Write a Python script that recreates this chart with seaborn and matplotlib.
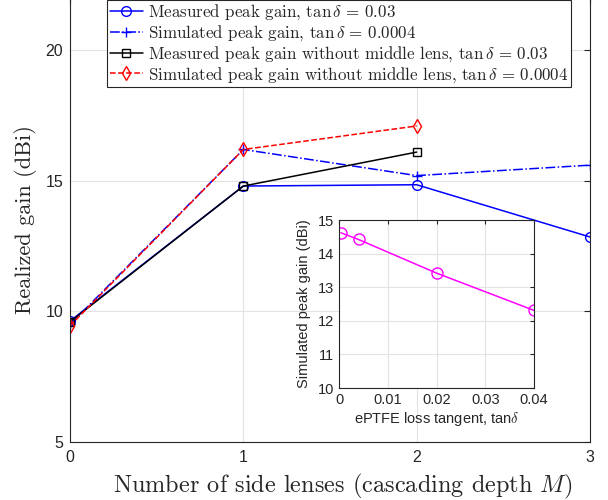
import numpy as np
import pandas as pd
import matplotlib
matplotlib.use("Agg")
import matplotlib.pyplot as plt
import seaborn as sns

# data
depth = [0, 1, 2, 3]
meas_gain = [9.63, 14.8, 14.85, 12.85]
sim_gain = [9.5, 16.2, 15.2, 15.6]
depth_nomid = [0, 1, 2]
meas_gain_nomid = [9.6, 14.8, 16.1]
sim_gain_nomid = [9.45, 16.2, 17.1]

loss_tangent = [0.0004, 0.004, 0.02, 0.04]
sim_peak_gain = [14.62, 14.42, 13.42, 12.31]

labels = [
    r"Measured peak gain, $\tan\delta\,=\,0.03$",
    r"Simulated peak gain, $\tan\delta\,=\,0.0004$",
    r"Measured peak gain without middle lens, $\tan\delta\,=\,0.03$",
    r"Simulated peak gain without middle lens, $\tan\delta\,=\,0.0004$",
]

sns.set_style("white")
plt.rcParams["font.family"] = ["Liberation Sans", "DejaVu Sans"]
plt.rcParams["mathtext.fontset"] = "cm"
plt.rcParams["xtick.direction"] = "in"
plt.rcParams["ytick.direction"] = "in"
plt.rcParams["xtick.top"] = True
plt.rcParams["ytick.right"] = True

serif = "cmr10"

fig = plt.figure(figsize=(6.08, 5), dpi=100)
ax = fig.add_axes([70 / 608, 0.116, 520 / 608, 444 / 500])

series = [
    (depth, meas_gain, "blue", "-", "o"),
    (depth, sim_gain, "blue", "-.", "+"),
    (depth_nomid, meas_gain_nomid, "black", "-", "s"),
    (depth_nomid, sim_gain_nomid, "red", "--", "d"),
]
for (xs, ys, c, ls, mk), lab in zip(series, labels):
    df = pd.DataFrame({"x": xs, "y": ys})
    sns.lineplot(data=df, x="x", y="y", ax=ax, color=c, linestyle=ls,
                 marker=mk, markersize=7 if mk != "s" else 5.5,
                 markerfacecolor="none", markeredgecolor=c,
                 markeredgewidth=1.0, linewidth=1.1, label=lab)

ax.set_xlim(0, 3)
ax.set_ylim(5, 22)
ax.set_xticks([0, 1, 2, 3])
ax.set_yticks([5, 10, 15, 20])
ax.grid(True, color="#e3e3e3", linewidth=0.8)
ax.tick_params(labelsize=11.5, length=4, colors="#262626")
ax.tick_params(axis="x", pad=6)
ax.tick_params(axis="y", pad=5)
for s in ax.spines.values():
    s.set_color("#262626")
    s.set_linewidth(0.8)
ax.set_xlabel(r"Number of side lenses (cascading depth $M$)", fontsize=17.5,
              family=serif)
ax.xaxis.set_label_coords(0.525, -0.068)
ax.set_ylabel("Realized gain (dBi)", fontsize=16, family=serif, labelpad=6)

leg = ax.legend(loc="upper left", bbox_to_anchor=((107 - 70) / 520, 0.9955),
                borderaxespad=0, fancybox=False, framealpha=1,
                edgecolor="#262626", handlelength=2.0, handletextpad=0.25,
                borderpad=0.15, labelspacing=0.05, prop={"family": serif, "size": 12.2})
leg.get_frame().set_linewidth(0.8)

# inset
axi = fig.add_axes([339 / 608, (500 - 388) / 500, 195 / 608, 168 / 500])
dfi = pd.DataFrame({"t": loss_tangent, "g": sim_peak_gain})
sns.lineplot(data=dfi, x="t", y="g", ax=axi, color="magenta", marker="o",
             markersize=8, markerfacecolor="none", markeredgecolor="magenta",
             markeredgewidth=1.0, linewidth=1.1)
axi.set_xlim(0, 0.04)
axi.set_ylim(10, 15)
axi.set_xticks([0, 0.01, 0.02, 0.03, 0.04])
axi.set_xticklabels(["0", "0.01", "0.02", "0.03", "0.04"])
axi.set_yticks([10, 11, 12, 13, 14, 15])
axi.grid(True, color="#e3e3e3", linewidth=0.8)
axi.tick_params(labelsize=10.5, length=3, colors="#262626")
for s in axi.spines.values():
    s.set_color("#262626")
    s.set_linewidth(0.8)
axi.set_xlabel(r"ePTFE loss tangent, tan$\delta$", fontsize=10.5, labelpad=2)
axi.set_ylabel("Simulated peak gain (dBi)", fontsize=10.5, labelpad=5)

fig.savefig("out.png", dpi=100)
